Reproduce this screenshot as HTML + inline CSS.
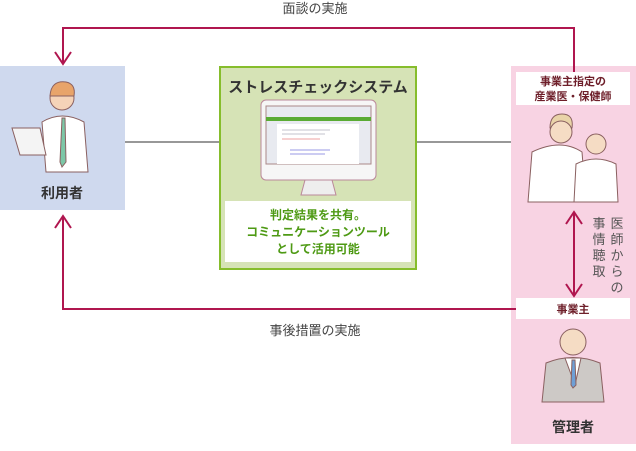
<!DOCTYPE html>
<html><head><meta charset="utf-8"><style>
body{margin:0;background:#fff;width:636px;height:446px;overflow:hidden;font-family:"Liberation Sans","Noto Sans CJK JP",sans-serif}
</style></head><body>
<svg width="636" height="446" viewBox="0 0 636 446" xmlns="http://www.w3.org/2000/svg" font-family="Liberation Sans, Noto Sans CJK JP, sans-serif">
<rect x="0" y="66" width="125" height="144" fill="#cfd9ee"/>
<rect x="220" y="67" width="196" height="202" fill="#d6e3b6" stroke="#86bd2c" stroke-width="2"/>
<rect x="511" y="66" width="125" height="378" fill="#f8d3e3"/>
<line x1="125" y1="142" x2="219" y2="142" stroke="#777" stroke-width="1.5"/>
<line x1="417" y1="142" x2="511" y2="142" stroke="#777" stroke-width="1.5"/>
<g stroke="#b0164f" stroke-width="2" fill="none">
<polyline points="574,88 574,28 63,28 63,64"/>
<polyline points="55,52 63,64 71,52"/>
<polyline points="516,309 63,309 63,216"/>
<polyline points="55,228 63,216 71,228"/>
<line x1="574" y1="212" x2="574" y2="296"/>
<polyline points="566,224 574,212 582,224"/>
<polyline points="566,284 574,296 582,284"/>
</g>
<text x="315" y="13" font-size="13" fill="#444" text-anchor="middle">面談の実施</text>
<text x="315" y="335" font-size="13" fill="#444" text-anchor="middle">事後措置の実施</text>
<text x="62" y="198" font-size="14" font-weight="bold" fill="#333" text-anchor="middle">利用者</text>
<text x="318" y="92" font-size="15" font-weight="bold" fill="#333" text-anchor="middle">ストレスチェックシステム</text>
<rect x="225" y="201" width="186" height="61" fill="#fff"/>
<g font-size="12" font-weight="bold" fill="#4e9a14" text-anchor="middle">
<text x="318" y="219">判定結果を共有。</text>
<text x="318" y="236">コミュニケーションツール</text>
<text x="318" y="253">として活用可能</text>
</g>
<rect x="516" y="72" width="114" height="33" fill="#fff"/>
<g font-size="11" font-weight="bold" fill="#6e1f2a" text-anchor="middle">
<text x="573" y="85">事業主指定の</text>
<text x="573" y="100">産業医・保健師</text>
</g>
<rect x="516" y="298" width="114" height="21" fill="#fff"/>
<text x="573" y="313" font-size="11" font-weight="bold" fill="#6e1f2a" text-anchor="middle">事業主</text>
<text x="573" y="432" font-size="14" font-weight="bold" fill="#333" text-anchor="middle">管理者</text>
<g font-size="13" fill="#555" text-anchor="middle">
<text x="617" y="228">医</text><text x="617" y="244">師</text><text x="617" y="260">か</text><text x="617" y="276">ら</text><text x="617" y="292">の</text>
<text x="599" y="228">事</text><text x="599" y="244">情</text><text x="599" y="260">聴</text><text x="599" y="276">取</text>
</g>
<rect x="261" y="100" width="115" height="80" rx="5" fill="#f6f6f6" stroke="#b89" stroke-width="1"/>
<rect x="266" y="106" width="105" height="58" fill="#e8eaf0" stroke="#a88"/>
<rect x="266" y="117" width="105" height="4" fill="#5aab34"/>
<rect x="277" y="124" width="82" height="40" fill="#fff"/>
<g stroke="#889" stroke-width="0.6"><line x1="282" y1="130" x2="330" y2="130"/><line x1="282" y1="134" x2="325" y2="134"/><line x1="282" y1="139" x2="320" y2="139" stroke="#d44"/><line x1="290" y1="150" x2="330" y2="150" stroke="#33c"/><line x1="290" y1="154" x2="325" y2="154" stroke="#33c"/></g>
<polygon points="305,180 332,180 336,195 301,195" fill="#eee" stroke="#b89"/>
<g stroke="#8a6060" stroke-width="1">
<circle cx="62" cy="98" r="12" fill="#f5d3b8"/>
<path d="M50,96 Q51,80 66,82 Q76,84 74,96 Z" fill="#e8a46a"/>
<path d="M42,122 Q62,110 84,122 L88,172 L46,172 Z" fill="#fff"/>
<path d="M62,118 L65,118 L66,162 L62,167 L60,162Z" fill="#7cc7a7"/>
<polygon points="12,128 40,128 46,155 20,155" fill="#f4f4f4"/>
</g>
<g stroke="#8a6060" stroke-width="1">
<path d="M550,128 Q550,114 562,114 Q574,114 572,128 Z" fill="#e9d3a8"/>
<circle cx="561" cy="132" r="11" fill="#f5dcc4"/>
<path d="M532,152 Q561,138 582,152 L586,202 L528,202Z" fill="#fff"/>
<circle cx="596" cy="144" r="10" fill="#f5dcc4"/>
<path d="M576,164 Q596,154 616,164 L618,202 L574,202Z" fill="#fff"/>
</g>
<g stroke="#8a6060" stroke-width="1">
<path d="M542,402 L546,363 Q573,352 600,363 L604,402Z" fill="#cdc9c6"/>
<path d="M565,358 L581,358 L575,385Z" fill="#fff"/>
<path d="M572,360 L575,360 L576,385 L573,388 L571,385Z" fill="#6e9fd6"/>
<circle cx="573" cy="342" r="13" fill="#f5dcc4"/>
</g>
</svg>
</body></html>
